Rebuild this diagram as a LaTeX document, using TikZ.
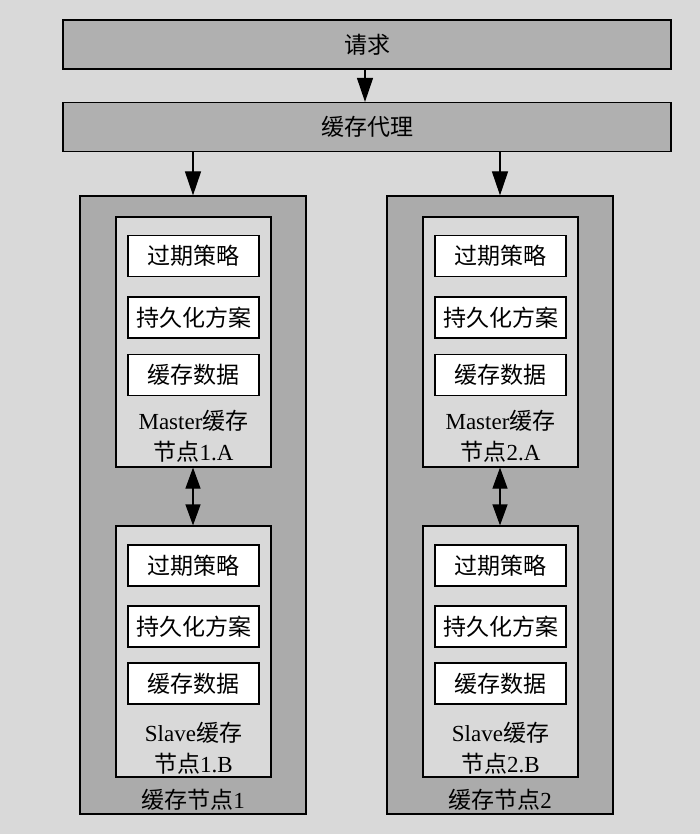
\documentclass[tikz,border=0pt]{standalone}
\usepackage{fontspec}
\setmainfont{Liberation Serif}
\newfontfamily\cjk{Noto Sans CJK SC}
\newcommand\zh[1]{{\cjk #1}}
\usetikzlibrary{arrows.meta}
\definecolor{bggray}{HTML}{D9D9D9}
\definecolor{bargray}{HTML}{B0B0B0}
\definecolor{nodegray}{HTML}{ABABAB}
\tikzset{
  every node/.style={font=\fontsize{23}{31}\selectfont,inner sep=0pt},
  bar/.style={draw,line width=1.2pt,fill=bargray,minimum width=608,minimum height=49},
  cluster/.style={draw,line width=1.2pt,fill=nodegray,minimum width=226,minimum height=618},
  role/.style={draw,line width=1.2pt,fill=bggray,minimum width=155,minimum height=250},
  leaf/.style={draw,line width=1.2pt,fill=white,minimum width=131,minimum height=41},
  arr/.style={line width=1.2pt,-{Triangle[length=24pt,width=16pt]}},
  darr/.style={line width=1.2pt,{Triangle[length=21pt,width=15pt]}-{Triangle[length=21pt,width=15pt]}}
}
\begin{document}
\begin{tikzpicture}[x=1pt,y=-1pt]
\fill[bggray] (0,0) rectangle (700,834);
\useasboundingbox (0,0) rectangle (700,834);

\node[bar] (req) at (367,44.5) {\zh{请求}};
\node[bar] (proxy) at (367,127) {\zh{缓存代理}};
\draw[arr] (req.south -| 365,0) -- (proxy.north -| 365,0);

% two cache nodes
\foreach \n/\x in {1/193,2/500}{
  \node[cluster] (c\n) at (\x,505) {};
  \node[anchor=base] (c\n lbl) at (\x,808) {\zh{缓存节点}\n};
  \node[role] (m\n) at (\x+0.5,342) {};
  \node[role,minimum height=251] (s\n) at (\x+0.5,651.5) {};
  \node[leaf] (m\n a) at (\x+0.5,256) {\zh{过期策略}};
  \node[leaf] (m\n b) at (\x+0.5,317.5) {\zh{持久化方案}};
  \node[leaf] (m\n c) at (\x+0.5,375) {\zh{缓存数据}};
  \node[leaf] (s\n a) at (\x+0.5,565.5) {\zh{过期策略}};
  \node[leaf] (s\n b) at (\x+0.5,626.5) {\zh{持久化方案}};
  \node[leaf] (s\n c) at (\x+0.5,683.5) {\zh{缓存数据}};
  \node[align=center] (m\n lbl) at (\x+0.5,436) {Master\zh{缓存}\\\zh{节点}\n.A};
  \node[align=center] (s\n lbl) at (\x+0.5,748) {Slave\zh{缓存}\\\zh{节点}\n.B};
  \draw[arr] (proxy.south -| c\n.north) -- (c\n.north);
  \draw[darr] (m\n.south -| c\n.north) -- (s\n.north -| c\n.north);
}
\end{tikzpicture}
\end{document}
